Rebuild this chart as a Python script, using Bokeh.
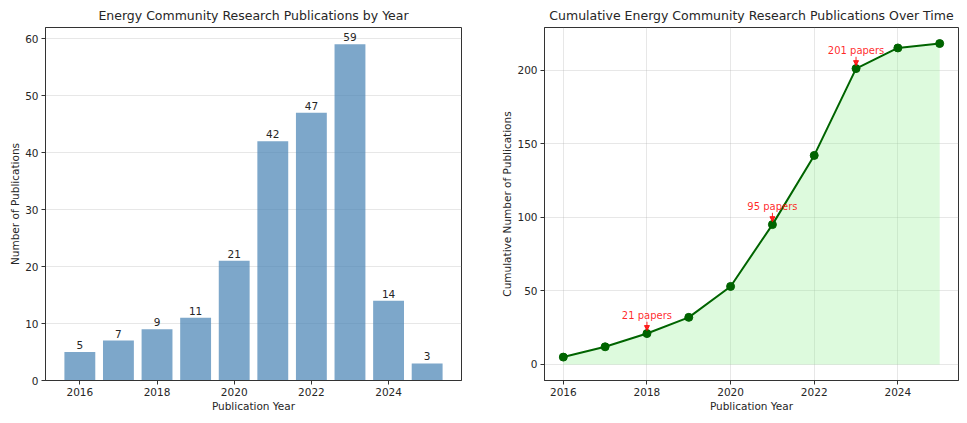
from bokeh.plotting import figure
from bokeh.layouts import row
from bokeh.models import ColumnDataSource, FixedTicker, Arrow, NormalHead, Range1d
from bokeh.embed import file_html
from bokeh.resources import INLINE
from bokeh.core.properties import value

years = [2016, 2017, 2018, 2019, 2020, 2021, 2022, 2023, 2024, 2025]
counts = [5, 7, 9, 11, 21, 42, 47, 59, 14, 3]
cumulative = [5, 12, 21, 32, 53, 95, 142, 201, 215, 218]
annot_years = [2018, 2021, 2023]
annot_values = [21, 95, 201]
annot_labels = ["21 papers", "95 papers", "201 papers"]
x_ticks = [2016, 2018, 2020, 2022, 2024]
left_y_ticks = [0, 10, 20, 30, 40, 50, 60]
right_y_ticks = [0, 50, 100, 150, 200]

FONT = "DejaVu Sans"
TXT = "#262626"


def style(p, yticks, ylabel):
    p.title.text_font = FONT
    p.title.text_font_size = "12.5px"
    p.title.text_font_style = "normal"
    p.title.align = "center"
    p.title.text_color = TXT
    p.title.standoff = 10
    p.outline_line_color = "#333333"
    p.outline_line_width = 1
    p.xaxis.ticker = FixedTicker(ticks=x_ticks)
    p.yaxis.ticker = FixedTicker(ticks=yticks)
    p.xaxis.axis_label = "Publication Year"
    p.yaxis.axis_label = ylabel
    for ax in (p.xaxis, p.yaxis):
        ax.axis_label_text_font = FONT
        ax.axis_label_text_font_size = "10.5px"
        ax.axis_label_text_font_style = "normal"
        ax.axis_label_text_color = TXT
        ax.axis_label_standoff = 1
        ax.major_label_text_font = FONT
        ax.major_label_text_font_size = "10.5px"
        ax.major_label_text_color = TXT
        ax.major_label_standoff = 3
        ax.major_tick_out = 4
        ax.major_tick_in = 0
        ax.minor_tick_out = 0
        ax.minor_tick_in = 0
        ax.axis_line_color = "#333333"
        ax.major_tick_line_color = "#333333"
    p.xgrid.grid_line_color = "#b0b0b0"
    p.ygrid.grid_line_color = "#b0b0b0"
    p.xgrid.grid_line_alpha = 0.3
    p.ygrid.grid_line_alpha = 0.3


# Left: bar chart
src = ColumnDataSource(dict(year=years, count=counts, label=[str(c) for c in counts]))
p1 = figure(width=484, height=414, output_backend="svg", toolbar_location=None,
            title="Energy Community Research Publications by Year",
            x_range=Range1d(2015.11, 2025.89), y_range=Range1d(0, 61.95),
            min_border_left=45, min_border_right=23, min_border_top=4, min_border_bottom=0)
style(p1, left_y_ticks, "Number of Publications")
p1.xgrid.visible = False
p1.vbar(x="year", top="count", width=0.8, source=src, fill_color="steelblue",
        fill_alpha=0.7, line_color=None)
p1.text(x="year", y="count", text="label", source=src, text_align="center",
        text_baseline="bottom", y_offset=-3, text_font=value(FONT),
        text_font_size="10.5px", text_color=TXT)

# Right: cumulative
src2 = ColumnDataSource(dict(year=years, cum=cumulative))
p2 = figure(width=477, height=414, output_backend="svg", toolbar_location=None,
            title="Cumulative Energy Community Research Publications Over Time",
            x_range=Range1d(2015.55, 2025.45), y_range=Range1d(-10.9, 228.9),
            min_border_left=60, min_border_right=3, min_border_top=4, min_border_bottom=0)
style(p2, right_y_ticks, "Cumulative Number of Publications")
p2.varea(x="year", y1=0, y2="cum", source=src2, fill_color="lightgreen", fill_alpha=0.3)
p2.line(x="year", y="cum", source=src2, line_color="darkgreen", line_width=2)
p2.scatter(x="year", y="cum", source=src2, size=8, fill_color="darkgreen",
           line_color="darkgreen")

asrc = ColumnDataSource(dict(x=annot_years, y=annot_values, t=annot_labels,
                             ys=[v + 8 for v in annot_values],
                             ye=[v + 2 for v in annot_values]))
p2.text(x="x", y="y", text="t", source=asrc, text_align="center",
        text_baseline="bottom", y_offset=-13, text_font=value(FONT),
        text_font_size="10px", text_color="red", text_alpha=0.85)
p2.add_layout(Arrow(end=NormalHead(size=5, fill_color="red", line_color="red",
                                   fill_alpha=0.85, line_alpha=0.85),
                    x_start="x", y_start="ys", x_end="x", y_end="ye",
                    line_color="red", line_alpha=0.85, line_width=1, source=asrc))

layout = row(p1, p2)
open("out.html", "w").write(file_html(layout, INLINE))
